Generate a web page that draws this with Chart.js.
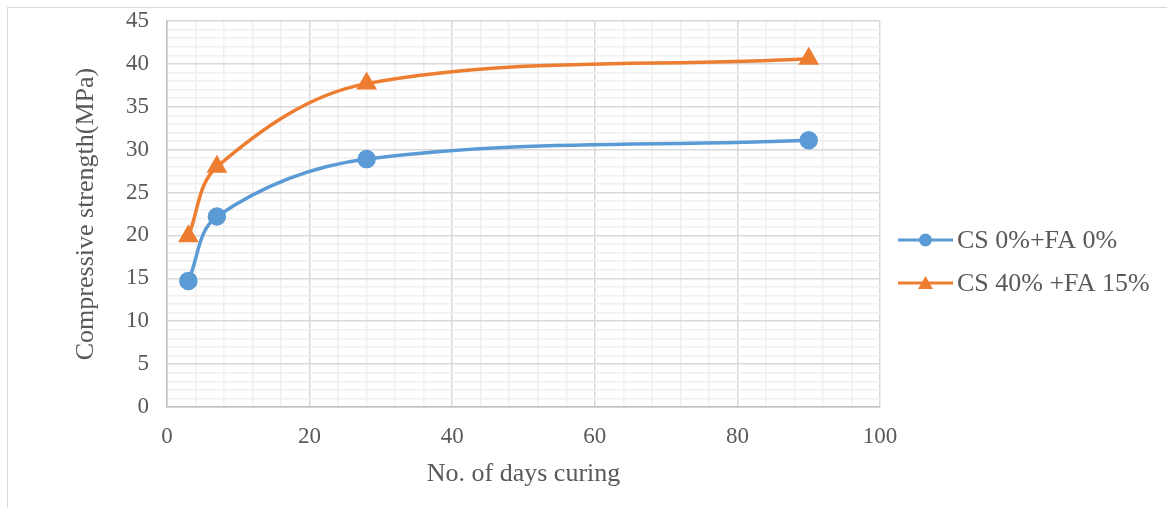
<!DOCTYPE html>
<html>
<head>
<meta charset="utf-8">
<script src="https://cdn.jsdelivr.net/npm/chart.js@4.4.1/dist/chart.umd.min.js"></script>
<style>
html,body{margin:0;padding:0;background:#fff;}
#wrap{width:1167px;height:508px;position:relative;}
</style>
</head>
<body>
<div id="wrap"><canvas id="c" width="1167" height="508"></canvas></div>
<script>
const days = [3, 7, 28, 90];
const seriesNames = ['CS 0%+FA 0%', 'CS 40% +FA 15%'];
const control = [14.7, 22.2, 28.9, 31.1];
const blend = [19.9, 28.0, 37.7, 40.6];
const xTickLabels = [0, 20, 40, 60, 80, 100];
const yTickLabels = [0, 5, 10, 15, 20, 25, 30, 35, 40, 45];

const TEXT = '#595959';
const FONT = 'Liberation Serif, "Times New Roman", serif';
const BLUE = '#5B9BD5', ORANGE = '#ED7D31';

const toPts = vals => days.map((d, i) => ({x: d, y: vals[i]}));

const frame = {
  id: 'frame',
  beforeDraw(chart) {
    const ctx = chart.ctx;
    ctx.save();
    ctx.fillStyle = '#fff';
    ctx.fillRect(0, 0, chart.width, chart.height);
    ctx.strokeStyle = '#d9d9d9';
    ctx.lineWidth = 1;
    ctx.strokeRect(7.5, 7.5, chart.width, chart.height);
    ctx.restore();
  }
};

const legendPlugin = {
  id: 'customLegend',
  afterDraw(chart) {
    const ctx = chart.ctx;
    ctx.save();
    const x0 = 898, x1 = 953, ys = [240, 283];
    chart.data.datasets.forEach((ds, i) => {
      const y = ys[i];
      ctx.strokeStyle = ds.borderColor;
      ctx.lineWidth = 3;
      ctx.beginPath(); ctx.moveTo(x0, y); ctx.lineTo(x1, y); ctx.stroke();
      ctx.fillStyle = ds.borderColor;
      const cx = (x0 + x1) / 2;
      if (ds.pointStyle === 'triangle') {
        ctx.beginPath();
        ctx.moveTo(cx, y - 7); ctx.lineTo(cx + 7.5, y + 6); ctx.lineTo(cx - 7.5, y + 6); ctx.closePath(); ctx.fill();
      } else {
        ctx.beginPath(); ctx.arc(cx, y, 6.5, 0, Math.PI * 2); ctx.fill();
      }
      ctx.fillStyle = TEXT;
      ctx.font = '26px ' + FONT;
      ctx.textBaseline = 'middle';
      ctx.textAlign = 'left';
      ctx.fillText(ds.label, 957, y + 1);
    });
    ctx.restore();
  }
};

new Chart(document.getElementById('c'), {
  type: 'line',
  data: {
    datasets: [
      {label: seriesNames[0], data: toPts(control), borderColor: BLUE, backgroundColor: BLUE,
       borderWidth: 3.5, pointStyle: 'circle', pointRadius: 7.5, pointHoverRadius: 7.5, tension: 0.35, fill: false},
      {label: seriesNames[1], data: toPts(blend), borderColor: ORANGE, backgroundColor: ORANGE,
       borderWidth: 3.5, pointStyle: 'triangle', pointRadius: 8.5, pointHoverRadius: 8.5, tension: 0.35, fill: false}
    ]
  },
  options: {
    responsive: false,
    animation: false,
    devicePixelRatio: 1,
    layout: {padding: {top: 21, left: 0, right: 287, bottom: 0}},
    plugins: {legend: {display: false}, tooltip: {enabled: false}},
    scales: {
      x: {
        type: 'linear', min: 0, max: 100,
        afterFit(s) { s.height = 101; s.paddingLeft = 0; s.paddingRight = 0; },
        ticks: {stepSize: 4, padding: 16, color: TEXT, font: {family: FONT, size: 23},
          autoSkip: false, maxRotation: 0,
          callback: v => xTickLabels.includes(v) ? String(v) : ''},
        grid: {drawTicks: false, color: c => (c.tick && c.tick.value % 20 === 0) ? '#d9d9d9' : '#f0f0f0', lineWidth: 1.5},
        border: {color: '#bfbfbf', width: 1.5},
        title: {display: true, text: 'No. of days curing', color: TEXT, font: {family: FONT, size: 26}, padding: {bottom: 18, top: 0}}
      },
      y: {
        type: 'linear', min: 0, max: 45,
        afterFit(s) { s.width = 167; s.paddingTop = 0; s.paddingBottom = 0; },
        ticks: {stepSize: 1, padding: 18, color: TEXT, font: {family: FONT, size: 23},
          autoSkip: false,
          callback: v => yTickLabels.includes(v) ? String(v) : ''},
        grid: {drawTicks: false, color: c => (c.tick && c.tick.value % 5 === 0) ? '#d9d9d9' : '#f0f0f0', lineWidth: 1.5},
        border: {color: '#bfbfbf', width: 1.5},
        title: {display: true, text: 'Compressive strength(MPa)', color: TEXT, font: {family: FONT, size: 26}, padding: {top: 71, bottom: 0}}
      }
    }
  },
  plugins: [frame, legendPlugin]
});
</script>
</body>
</html>
